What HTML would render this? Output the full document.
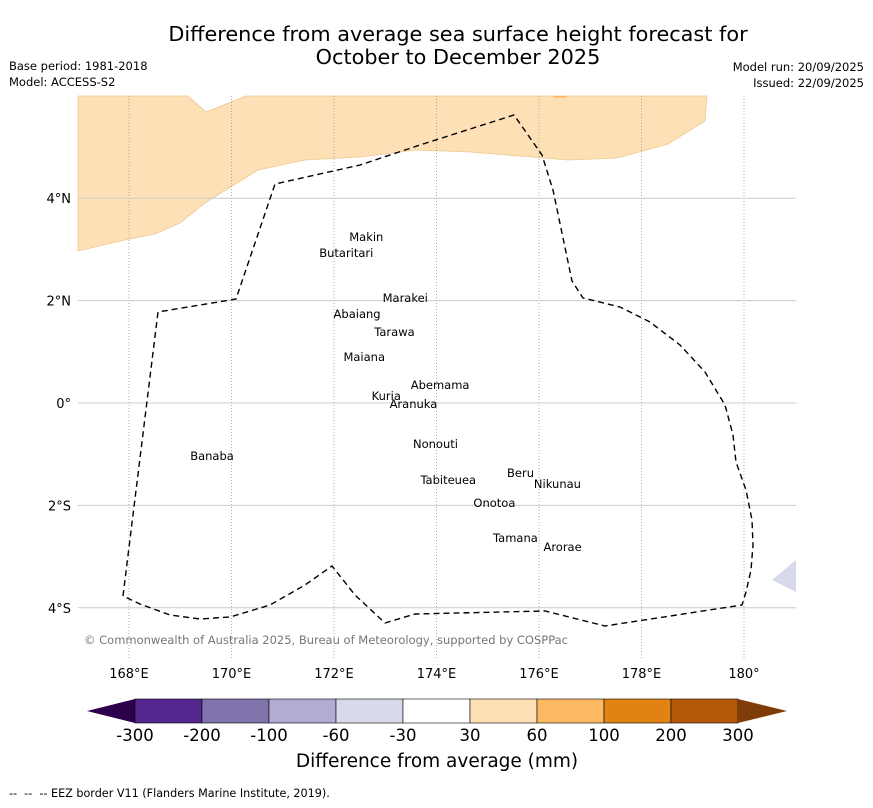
<!DOCTYPE html>
<html><head><meta charset="utf-8"><style>
body{margin:0;background:#fff;width:873px;height:804px;overflow:hidden;font-family:"DejaVu Sans","Liberation Sans",sans-serif}
</style></head><body>
<svg id="chart" width="873" height="804" xmlns="http://www.w3.org/2000/svg" font-family="DejaVu Sans, Liberation Sans, sans-serif">
<text x="458" y="41" text-anchor="middle" font-size="20.8">Difference from average sea surface height forecast for</text>
<text x="458" y="64" text-anchor="middle" font-size="20.8">October to December 2025</text>
<text x="9" y="70" font-size="11.5">Base period: 1981-2018</text>
<text x="9" y="86" font-size="11.5">Model: ACCESS-S2</text>
<text x="864" y="71" font-size="11.5" text-anchor="end">Model run: 20/09/2025</text>
<text x="864" y="87" font-size="11.5" text-anchor="end">Issued: 22/09/2025</text>
<g id="map"></g>
<g id="cbar"></g>
<text x="437" y="767" text-anchor="middle" font-size="18.5">Difference from average (mm)</text>
<text x="9" y="797" font-size="11.2">--&#160;&#160;--&#160;&#160;-- EEZ border V11 (Flanders Marine Institute, 2019).</text>
</svg>
<script>
const lonTicks=[168,170,172,174,176,178,180];
const lonLabels=["168°E","170°E","172°E","174°E","176°E","178°E","180°"];
const latTicks=[4,2,0,-2,-4];
const latLabels=["4°N","2°N","0°","2°S","4°S"];
const levelLabels=["-300","-200","-100","-60","-30","30","60","100","200","300"];
const levelColors=["#54278f","#8073ac","#b2abd2","#d8daeb","#ffffff","#fee0b6","#fdb863","#e08214","#b35806"];
const islandNames=["Makin","Butaritari","Marakei","Abaiang","Tarawa","Maiana","Abemama","Kuria","Aranuka","Nonouti","Banaba","Beru","Nikunau","Tabiteuea","Onotoa","Tamana","Arorae"];
const islandLon=[172.63,172.24,173.39,172.45,173.18,172.59,174.07,173.02,173.55,173.98,169.62,175.64,176.36,174.23,175.13,175.54,176.46];
const islandLat=[3.24,2.93,2.05,1.74,1.39,0.90,0.35,0.14,-0.02,-0.80,-1.04,-1.37,-1.58,-1.50,-1.95,-2.64,-2.81];
const NS="http://www.w3.org/2000/svg";
const X=lon=>129+(lon-168)*51.25;
const Y=lat=>403-lat*51.2;
function mk(tag,attrs,parent){const e=document.createElementNS(NS,tag);for(const k in attrs)e.setAttribute(k,attrs[k]);parent.appendChild(e);return e;}
const map=document.getElementById('map');
const orangePts=[[78,96],[188,96],[206,112],[246,96],[707,96],[705,121],[668,144],[617,158],[568,160],[520,156],[470,152],[415,150],[360,157],[305,160],[258,170],[232,186],[205,203],[180,223],[155,234],[125,240],[78,251]];
let p=mk('polygon',{points:orangePts.map(a=>a.join(',')).join(' '),fill:levelColors[5],stroke:'#f0c890','stroke-width':0.8},map);


let p2=mk('polygon',{points:'772,580 796,560 796,592',fill:levelColors[3]},map);


mk('rect',{x:553,y:96,width:14,height:1.5,fill:levelColors[6]},map);
lonTicks.forEach((lon,i)=>{
 const g=mk('line',{x1:X(lon),x2:X(lon),y1:96,y2:658,stroke:'#999','stroke-width':0.8,'stroke-dasharray':'1,2'},map);
 
 
 const t=mk('text',{x:X(lon),y:678,'text-anchor':'middle','font-size':13},map);t.textContent=lonLabels[i];
 
 
});
latTicks.forEach((lat,i)=>{
 const g=mk('line',{x1:78,x2:796,y1:Y(lat),y2:Y(lat),stroke:'#ccc','stroke-width':1},map);
 
 
 const t=mk('text',{x:71,y:Y(lat)+5,'text-anchor':'end','font-size':13},map);t.textContent=latLabels[i];
 
 
});
const eez=[[123,596],[158,312],[236,299],[275,184],[360,165],[420,145],[514,115],[542,155],[553,190],[572,281],[583,298],[620,307],[650,322],[680,345],[705,372],[725,405],[733,435],[736,462],[746,490],[752,520],[753,545],[751,570],[746,592],[742,605],[605,626],[545,611],[415,614],[385,623],[355,595],[332,566],[305,585],[270,605],[230,617],[200,619],[170,615],[140,604],[123,596]];
let e=mk('polyline',{points:eez.map(a=>a.join(',')).join(' '),fill:'none',stroke:'#000','stroke-width':1.4,'stroke-dasharray':'6,4'},map);


islandNames.forEach((n,i)=>{
 const t=mk('text',{x:X(islandLon[i]),y:Y(islandLat[i])+4,'text-anchor':'middle','font-size':11.5},map);
 t.textContent=n;
 
 
});
const cr=mk('text',{x:84,y:644,'font-size':11.5,fill:'#777',textLength:484},map);
cr.textContent='© Commonwealth of Australia 2025, Bureau of Meteorology, supported by COSPPac';


const cb=document.getElementById('cbar');
const cx0=135,cw=67.0,cy=699,ch=24;
let lt=mk('polygon',{points:`87,711 ${cx0},${cy} ${cx0},${cy+ch}`,fill:'#2d004b'},cb);


levelColors.forEach((c,i)=>{
 const r=mk('rect',{x:cx0+i*cw,y:cy,width:cw,height:ch,fill:c,stroke:'#000','stroke-width':0.6},cb);
 
 
});
const endX=cx0+levelColors.length*cw;
let rt=mk('polygon',{points:`${endX},${cy} 787,711 ${endX},${cy+ch}`,fill:'#7f3b08'},cb);


levelLabels.forEach((l,i)=>{
 const t=mk('text',{x:cx0+i*cw,y:741,'text-anchor':'middle','font-size':16.5},cb);t.textContent=l;
 
 
});
</script>
</body></html>
